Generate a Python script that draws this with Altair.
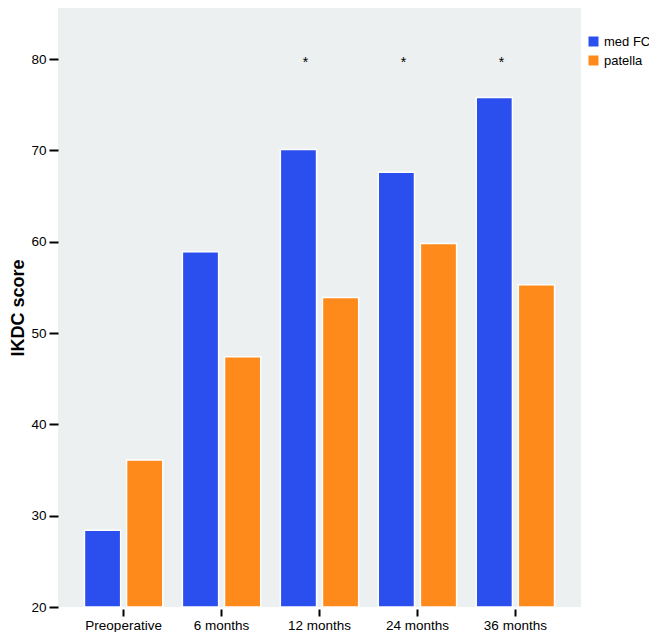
import altair as alt
import pandas as pd

categories = ["Preoperative", "6 months", "12 months", "24 months", "36 months"]
groups = ["med FC", "patella"]
med_fc = [28.4, 58.9, 70.1, 67.6, 75.8]
patella = [36.1, 47.4, 53.9, 59.8, 55.3]
star_categories = ["12 months", "24 months", "36 months"]
star_value = [79.8, 79.8, 79.8]
colors = ["#2B4FEE", "#FF8A1C"]

rows = []
for c, a, b in zip(categories, med_fc, patella):
    rows.append({"time": c, "group": groups[0], "score": a})
    rows.append({"time": c, "group": groups[1], "score": b})
df = pd.DataFrame(rows)
stars = pd.DataFrame({"time": star_categories, "score": star_value, "label": ["*"] * 3})

FONT = "Liberation Sans"

xscale = alt.Scale(domain=categories, paddingInner=0.2, paddingOuter=0.27)
yscale = alt.Scale(domain=[20, 85.6], nice=False, zero=False)

bars = alt.Chart(df).mark_bar(stroke="white", strokeWidth=1.5).encode(
    x=alt.X("time:N", scale=xscale, sort=categories,
            axis=alt.Axis(title=None, domain=False, labelAngle=0, labelFontSize=13.5,
                          labelColor="black", labelFont=FONT, tickColor="black",
                          tickWidth=2, tickSize=7, offset=2, labelPadding=2)),
    xOffset=alt.XOffset("group:N", scale=alt.Scale(domain=groups, paddingInner=0.14)),
    y=alt.Y("score:Q", scale=yscale,
            axis=alt.Axis(title="IKDC score", values=[20, 30, 40, 50, 60, 70, 80],
                          domain=False, grid=False, labelFontSize=13.5, labelColor="black",
                          labelFont=FONT, tickColor="black", tickWidth=2, tickSize=9,
                          labelPadding=3, titleFontSize=18, titleFont=FONT,
                          titleFontWeight="bold", titleColor="black", titlePadding=3)),
    y2=alt.datum(20),
    color=alt.Color("group:N", scale=alt.Scale(domain=groups, range=colors),
                    legend=alt.Legend(title=None, orient="none", legendX=529, legendY=27,
                                      symbolType="square", symbolSize=100, symbolStrokeWidth=0,
                                      labelFontSize=13, labelFont=FONT, labelColor="black",
                                      rowPadding=5, labelOffset=4)),
)

star_text = alt.Chart(stars).mark_text(fontSize=14, color="black", font=FONT, dx=-14, dy=2).encode(
    x=alt.X("time:N", scale=xscale, sort=categories),
    y=alt.Y("score:Q", scale=yscale),
    text="label:N",
)

chart = alt.layer(bars, star_text).properties(
    width=523, height=599,
    padding={"left": 50, "top": 0, "right": 68, "bottom": 25},
    autosize=alt.AutoSizeParams(type="none"),
    background="white",
).configure_view(fill="#ECF0F0", stroke=None)

chart.save("out.html", embed_options={"renderer": "svg", "actions": False})
